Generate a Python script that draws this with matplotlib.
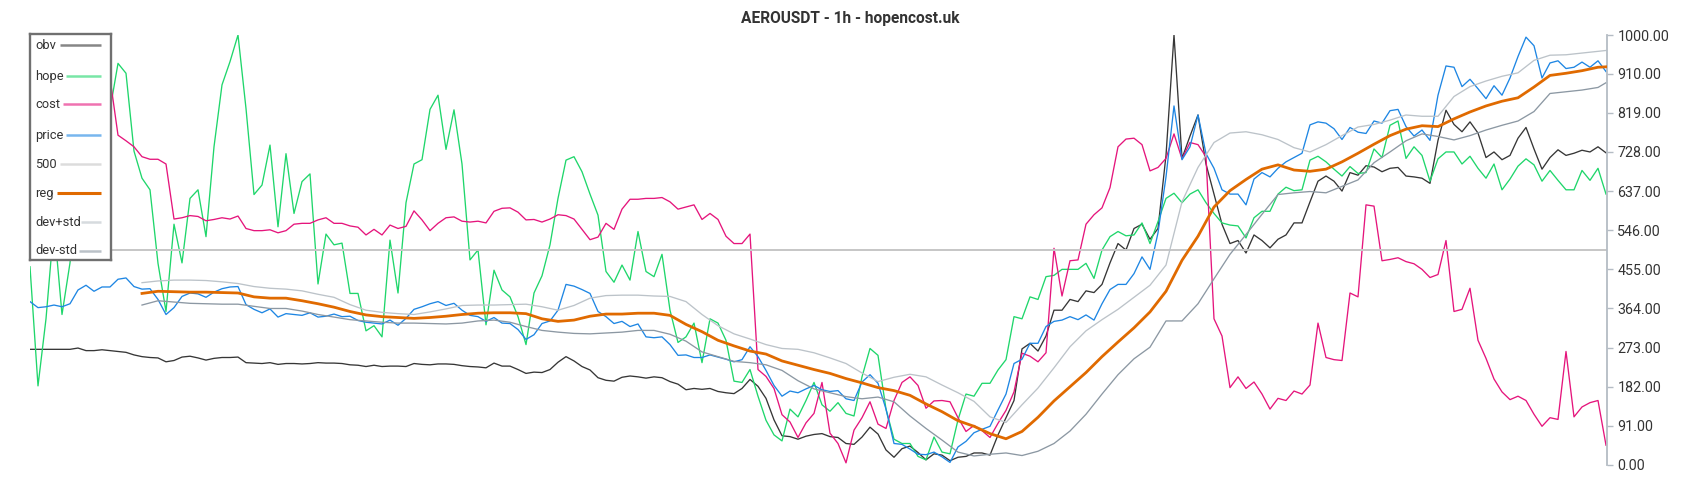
import numpy as np
import matplotlib
matplotlib.use("Agg")
import matplotlib.pyplot as plt

plt.rcParams['font.family'] = ['Roboto', 'DejaVu Sans']

TITLE = "AEROUSDT - 1h - hopencost.uk"
SERIES_NAMES = ["obv", "hope", "cost", "price", "500", "reg", "dev+std", "dev-std"]
Y_TICKS = [0, 91, 182, 273, 364, 455, 546, 637, 728, 819, 910, 1000]
LEVEL_500 = 500

obv = [269, 269, 269, 269, 269, 269, 272, 266, 266, 268, 266, 264, 262, 256, 252, 250, 249, 240, 243, 251, 253, 249, 244, 248, 250,
       250, 251, 238, 237, 236, 238, 234, 236, 236, 235, 236, 238, 237, 237, 236, 233, 232, 229, 232, 229, 230, 230, 229, 236,
       234, 233, 235, 235, 234, 231, 229, 228, 226, 237, 230, 230, 222, 213, 216, 215, 222, 239, 252, 242, 229, 221, 203, 197,
       195, 204, 207, 205, 202, 205, 203, 194, 188, 175, 178, 176, 178, 171, 168, 166, 178, 199, 183, 155, 105, 68, 66, 60, 67,
       71, 73, 66, 64, 50, 48, 65, 88, 72, 35, 18, 38, 44, 29, 12, 26, 23, 10, 18, 20, 28, 28, 23, 70,
       110, 150, 270, 283, 265, 300, 360, 360, 385, 380, 405, 401, 420, 470, 515, 500, 550, 560, 525, 550, 720, 1000, 713, 765, 814,
       700, 630, 560, 515, 522, 493, 535, 522, 505, 525, 535, 563, 563, 612, 660, 672, 660, 637, 680, 674, 696, 693, 682, 690,
       692, 672, 670, 667, 655, 755, 825, 792, 775, 798, 772, 715, 728, 710, 720, 760, 785, 735, 688, 715, 733, 720, 725, 732, 728, 740, 726]

hope = [461, 184, 340, 560, 350, 470, 650, 780, 700, 850, 826, 934, 911, 730, 667, 640, 469, 357, 560, 470, 620, 640, 531, 740, 884,
        938, 1000, 829, 629, 651, 744, 554, 724, 585, 659, 677, 421, 537, 512, 516, 399, 399, 312, 324, 298, 523, 400, 610, 700,
        710, 827, 860, 734, 826, 700, 477, 500, 326, 453, 407, 391, 345, 280, 400, 440, 512, 620, 709, 717, 682, 630, 581, 450,
        425, 465, 430, 543, 450, 438, 490, 360, 285, 298, 330, 238, 340, 330, 290, 195, 192, 222, 160, 104, 70, 56, 130, 112, 150,
        192, 140, 125, 145, 120, 114, 205, 271, 255, 130, 60, 50, 50, 20, 12, 65, 30, 26, 105, 165, 160, 190, 190, 221,
        245, 345, 340, 391, 385, 438, 441, 455, 455, 455, 469, 434, 500, 531, 543, 533, 535, 563, 515, 566, 620, 632, 610, 630, 640,
        610, 585, 563, 558, 556, 528, 575, 590, 590, 630, 646, 638, 640, 709, 718, 705, 688, 672, 694, 678, 680, 735, 715, 790,
        800, 713, 740, 720, 660, 712, 728, 728, 700, 718, 690, 667, 700, 640, 665, 695, 712, 698, 660, 685, 662, 640, 640, 685, 662, 690, 630]

cost = [900, 905, 895, 910, 900, 890, 905, 900, 895, 900, 900, 767, 754, 740, 717, 711, 711, 700, 572, 575, 580, 578, 568, 571, 575,
        572, 579, 550, 545, 545, 547, 540, 545, 560, 562, 562, 570, 575, 562, 562, 556, 553, 535, 548, 535, 558, 550, 555, 591,
        570, 545, 562, 575, 577, 567, 565, 567, 563, 590, 597, 598, 588, 570, 571, 565, 572, 582, 580, 572, 548, 524, 530, 562,
        548, 595, 618, 618, 620, 620, 622, 612, 595, 600, 605, 571, 585, 571, 532, 515, 515, 537, 222, 206, 178, 117, 100, 64, 98,
        120, 192, 74, 50, 5, 81, 110, 147, 95, 85, 150, 192, 205, 185, 132, 149, 150, 147, 110, 78, 92, 80, 64, 97,
        127, 170, 260, 253, 240, 261, 504, 393, 475, 477, 560, 582, 598, 645, 740, 758, 760, 745, 684, 692, 713, 770, 712, 750, 745,
        717, 340, 300, 180, 205, 178, 193, 165, 130, 155, 150, 172, 165, 186, 330, 250, 245, 243, 400, 391, 605, 602, 475, 478,
        482, 473, 468, 455, 436, 443, 522, 357, 362, 411, 290, 248, 200, 170, 152, 160, 150, 118, 90, 110, 106, 264, 112, 135, 145, 150, 46]

price = [380, 366, 368, 372, 368, 375, 407, 418, 404, 414, 414, 432, 435, 415, 409, 410, 385, 350, 366, 392, 400, 398, 390, 402, 410,
         414, 415, 373, 362, 354, 363, 344, 352, 350, 348, 354, 344, 346, 351, 345, 346, 336, 332, 330, 328, 337, 325, 341, 362,
         368, 375, 380, 371, 376, 360, 348, 345, 334, 343, 330, 329, 315, 292, 303, 329, 335, 360, 420, 416, 408, 399, 357, 345,
         329, 334, 322, 328, 298, 296, 298, 280, 255, 256, 250, 250, 256, 251, 246, 240, 245, 275, 252, 220, 185, 160, 172, 168, 177,
         185, 175, 171, 173, 154, 150, 193, 210, 190, 130, 50, 48, 37, 25, 24, 30, 19, 6, 42, 55, 75, 83, 90, 128,
         165, 236, 246, 283, 283, 322, 334, 337, 345, 338, 349, 337, 375, 408, 420, 420, 445, 484, 455, 540, 670, 835, 710, 740, 814,
         724, 690, 640, 630, 630, 605, 665, 680, 670, 690, 705, 715, 725, 791, 798, 795, 782, 757, 785, 774, 771, 800, 795, 824,
         827, 787, 765, 779, 755, 860, 928, 925, 880, 897, 875, 852, 882, 860, 900, 950, 995, 975, 900, 935, 940, 922, 925, 937, 925, 940, 915]

reg = [399, 404, 403, 402, 402, 401,
       400, 391, 388, 388, 382, 375, 367, 357, 349, 345, 343, 341,
       343, 346, 350, 353, 354, 354, 352, 340, 334, 337, 346, 351,
       351, 353, 353, 348, 327, 310, 290, 277, 265, 258, 242, 232,
       222, 213, 201, 191, 180, 173, 162, 142, 124, 103, 90, 73,
       61, 78, 111, 149, 182, 215, 252, 286, 319, 356, 404, 476, 532,
       600, 638, 664, 688, 698, 686, 683, 688, 705, 725, 746, 766,
       781, 789, 787, 805, 821, 835, 846, 854, 879, 906, 911, 917, 925, 926]

dev_plus = [424, 428, 430, 430, 429, 426,
            422, 415, 411, 409, 405, 397, 390, 373, 360, 355, 352, 350,
            356, 363, 371, 372, 372, 373, 374, 368, 360, 371, 388, 394,
            395, 395, 393, 392, 380, 350, 324, 305, 293, 280, 271, 269,
            261, 249, 236, 214, 194, 204, 211, 205, 186, 168, 148, 112,
            99, 140, 179, 226, 275, 312, 338, 362, 390, 418, 465, 612, 692,
            750, 772, 775, 768, 757, 738, 728, 745, 766, 786, 792, 802,
            814, 811, 811, 857, 880, 893, 904, 912, 941, 953, 954, 958, 962, 964]

dev_minus = [372, 382, 379, 376, 375, 374,
             374, 369, 364, 364, 358, 350, 344, 338, 335, 332, 330, 330,
             329, 328, 330, 335, 337, 332, 322, 313, 309, 306, 305, 307,
             309, 313, 313, 304, 288, 263, 252, 241, 238, 233, 220, 196,
             177, 168, 159, 154, 158, 147, 114, 85, 58, 30, 21, 25,
             28, 22, 32, 50, 79, 118, 165, 210, 247, 274, 335, 335, 375,
             433, 490, 536, 583, 629, 633, 636, 633, 648, 663, 703, 728,
             754, 770, 764, 756, 766, 779, 790, 800, 822, 864, 868, 872, 878, 889]

hours = np.arange(len(price))
band_hours = np.r_[14:len(price) - 1:2, len(price) - 1]

COLORS = {
    "obv": "#363636",
    "hope": "#1fd66b",
    "cost": "#e5157c",
    "price": "#1e86e3",
    "500": "#c6c6c6",
    "reg": "#e06a00",
    "dev+std": "#bcc3c9",
    "dev-std": "#8c98a3",
}

W, H = 1700, 500
fig = plt.figure(figsize=(17, 5), dpi=100)
fig.patch.set_facecolor("white")
ax = fig.add_axes([30 / W, 35 / H, 1577 / W, 430 / H])

thin = 0.95
ax.plot(hours, obv, color=COLORS["obv"], lw=thin, zorder=2)
ax.plot(hours, hope, color=COLORS["hope"], lw=thin, zorder=2)
ax.plot(hours, cost, color=COLORS["cost"], lw=thin, zorder=2)
ax.plot(hours, price, color=COLORS["price"], lw=thin, zorder=2)
ax.plot(hours, [LEVEL_500] * len(hours), color=COLORS["500"], lw=1.4, zorder=2)
ax.plot(band_hours, reg, color=COLORS["reg"], lw=2.0, zorder=3)
ax.plot(band_hours, dev_plus, color=COLORS["dev+std"], lw=thin, zorder=2)
ax.plot(band_hours, dev_minus, color=COLORS["dev-std"], lw=thin, zorder=2)

ax.set_xlim(0, (len(price) - 1) * 1577 / 1576)
ax.set_ylim(0, 1000)
for s in ["left", "top", "bottom"]:
    ax.spines[s].set_visible(False)
ax.spines["right"].set_color("#b4bcc4")
ax.spines["right"].set_linewidth(1.3)
ax.set_xticks([])
ax.yaxis.tick_right()
ax.set_yticks(Y_TICKS)
ax.set_yticklabels([f"{v:.2f}" for v in Y_TICKS])
ax.tick_params(axis="y", length=4, width=1, color="#b4bcc4", labelsize=10.3,
               labelcolor="#333333", pad=3.5)
ax.set_facecolor("white")

fig.text(0.5, 1 - 19 / H, TITLE, ha="center", va="center", fontsize=11.2,
         color="#333333", fontweight="semibold")

# legend box
lax = fig.add_axes([30 / W, (H - 260) / H, 81 / W, 226 / H], zorder=10)
lax.set_xlim(30, 111)
lax.set_ylim(260, 34)
lax.set_xticks([])
lax.set_yticks([])
lax.set_facecolor("white")
for s in lax.spines.values():
    s.set_color("#707070")
    s.set_linewidth(1.7)
leg_y = [45, 76, 104, 135, 164, 193, 222, 251]
leg_x0 = [60, 66, 63, 66, 60, 57, 81, 79]
for name, yy, x0 in zip(SERIES_NAMES, leg_y, leg_x0):
    lax.text(35, yy, name, ha="left", va="center", fontsize=9.3, color="#333333")
    lw = 2.2 if name == "reg" else 1.8
    alpha = 1.0 if name == "reg" else 0.6
    lax.plot([x0, 101], [yy, yy], color=COLORS[name], lw=lw, alpha=alpha,
             solid_capstyle="butt")

fig.savefig("out.png", dpi=100, facecolor="white")
